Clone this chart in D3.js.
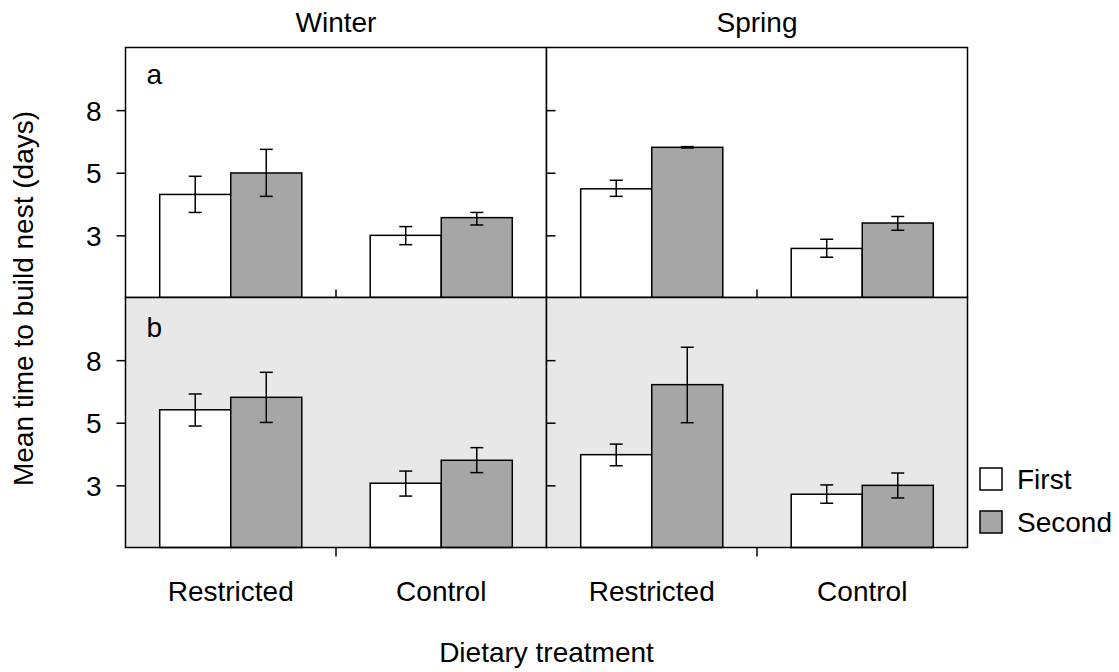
<!DOCTYPE html>
<html>
<head>
<meta charset="utf-8">
<script src="https://cdn.jsdelivr.net/npm/d3@7"></script>
<style>
  html, body { margin: 0; padding: 0; background: #fff; }
  svg { display: block; }
  text { font-family: "Liberation Sans", Arial, Helvetica, sans-serif; fill: #000; }
</style>
</head>
<body>
<svg id="chart" width="1119" height="672"></svg>
<script>
// ---- data ----
const seasons = ["Winter", "Spring"];
const rows = ["a", "b"];
const treatments = ["Restricted", "Control"];
const seriesNames = ["First", "Second"];
// order: a-Winter-Restricted, a-Winter-Control, a-Spring-Restricted, a-Spring-Control,
//        b-Winter-Restricted, b-Winter-Control, b-Spring-Restricted, b-Spring-Control
const meanFirst  = [4.27, 3.16, 4.45, 2.87, 5.51, 3.21, 3.96, 2.96];
const lowFirst   = [3.74, 2.95, 4.21, 2.69, 4.89, 2.92, 3.65, 2.77];
const highFirst  = [4.88, 3.37, 4.74, 3.07, 6.19, 3.51, 4.28, 3.17];
const meanSecond = [5.00, 3.60, 6.04, 3.46, 6.04, 3.80, 6.63, 3.16];
const lowSecond  = [4.21, 3.41, 6.01, 3.28, 5.02, 3.47, 5.01, 2.88];
const highSecond = [5.95, 3.74, 6.07, 3.63, 7.26, 4.17, 8.73, 3.46];
const yTickValues = [3.16, 5.01, 7.94];
const yTickLabels = ["3", "5", "8"];
const yDomain = [2, 12.59];

// ---- layout ----
const svg = d3.select("#chart");
const leftX = 125.5, topY = 47.5, panelW = 421, panelH = 250;
const fs = 28;
const grayFill = "#a6a6a6";
const bgB = "#e8e8e8";

const xGroup = d3.scaleBand().domain(treatments).range([0, panelW]).paddingInner(0.325).paddingOuter(0.1625);
const xSeries = d3.scaleBand().domain(seriesNames).range([0, xGroup.bandwidth()]);
const y = d3.scaleLog().domain(yDomain).range([panelH, 0]);
const fills = d3.scaleOrdinal().domain(seriesNames).range(["#ffffff", grayFill]);

const series = [
  { name: "First",  mean: meanFirst,  low: lowFirst,  high: highFirst },
  { name: "Second", mean: meanSecond, low: lowSecond, high: highSecond }
];

rows.forEach((row, ri) => {
  seasons.forEach((season, si) => {
    const gx = leftX + si * panelW;
    const gy = topY + ri * panelH;
    const g = svg.append("g").attr("transform", `translate(${gx},${gy})`);

    // background
    g.append("rect").attr("x", 0).attr("y", 0).attr("width", panelW).attr("height", panelH)
      .attr("fill", ri === 1 ? bgB : "#fff");

    // bars
    treatments.forEach((tr, ti) => {
      const idx = ri * 4 + si * 2 + ti;
      series.forEach(s => {
        const x0 = xGroup(tr) + xSeries(s.name);
        g.append("rect")
          .attr("x", x0).attr("width", xSeries.bandwidth())
          .attr("y", y(s.mean[idx])).attr("height", panelH - y(s.mean[idx]))
          .attr("fill", fills(s.name)).attr("stroke", "#000").attr("stroke-width", 1.5);
        const cx = x0 + xSeries.bandwidth() / 2;
        const eg = g.append("g").attr("stroke", "#000").attr("stroke-width", 1.5);
        eg.append("line").attr("x1", cx).attr("x2", cx).attr("y1", y(s.low[idx])).attr("y2", y(s.high[idx]));
        [s.low[idx], s.high[idx]].forEach(v => {
          eg.append("line").attr("x1", cx - 6.5).attr("x2", cx + 6.5).attr("y1", y(v)).attr("y2", y(v));
        });
      });
    });

    // y axis ticks
    const fmt = (d, i) => yTickLabels[i];
    if (si === 0) {
      const ax = g.append("g").call(d3.axisLeft(y).tickValues(yTickValues).tickFormat(fmt).tickSize(9).tickPadding(15));
      ax.select(".domain").remove();
      ax.selectAll("line").attr("stroke", "#000").attr("stroke-width", 1.5);
      ax.selectAll("text").attr("font-size", fs).attr("font-family", "Liberation Sans, Arial, sans-serif")
        .attr("fill", "#000").attr("dy", "0.36em");
    } else {
      const ax = g.append("g").call(d3.axisRight(y).tickValues(yTickValues).tickFormat("").tickSize(9));
      ax.select(".domain").remove();
      ax.selectAll("line").attr("stroke", "#000").attr("stroke-width", 1.5);
    }

    // center x tick
    const cx = panelW / 2;
    g.append("line").attr("x1", cx).attr("x2", cx)
      .attr("y1", panelH).attr("y2", ri === 0 ? panelH - 8 : panelH + 9)
      .attr("stroke", "#000").attr("stroke-width", 1.5);

    // x labels for bottom row
    if (ri === 1) {
      treatments.forEach(tr => {
        g.append("text").attr("x", xGroup(tr) + xGroup.bandwidth() / 2).attr("y", panelH + 53)
          .attr("text-anchor", "middle").attr("font-size", fs).text(tr);
      });
    }

    // panel letter
    if (si === 0) {
      g.append("text").attr("x", 21).attr("y", ri === 0 ? 36 : 39).attr("font-size", fs).text(row);
    }

    // column titles
    if (ri === 0) {
      g.append("text").attr("x", panelW / 2).attr("y", -16).attr("text-anchor", "middle")
        .attr("font-size", fs).text(season);
    }

    // border
    g.append("rect").attr("x", 0).attr("y", 0).attr("width", panelW).attr("height", panelH)
      .attr("fill", "none").attr("stroke", "#000").attr("stroke-width", 1.5);
  });
});

// axis titles
svg.append("text").attr("transform", `translate(33,${topY + panelH + 1}) rotate(-90)`)
  .attr("text-anchor", "middle").attr("font-size", fs).text("Mean time to build nest (days)");
svg.append("text").attr("x", leftX + panelW).attr("y", 662)
  .attr("text-anchor", "middle").attr("font-size", fs).text("Dietary treatment");

// legend
const lg = svg.append("g").attr("transform", "translate(980,468)");
seriesNames.forEach((name, i) => {
  const rowG = lg.append("g").attr("transform", `translate(0,${i * 43})`);
  rowG.append("rect").attr("x", 0).attr("y", 0).attr("width", 22).attr("height", 22)
    .attr("fill", fills(name)).attr("stroke", "#000").attr("stroke-width", 1.5);
  rowG.append("text").attr("x", 37).attr("y", 21).attr("font-size", fs).text(name);
});
</script>
</body>
</html>
